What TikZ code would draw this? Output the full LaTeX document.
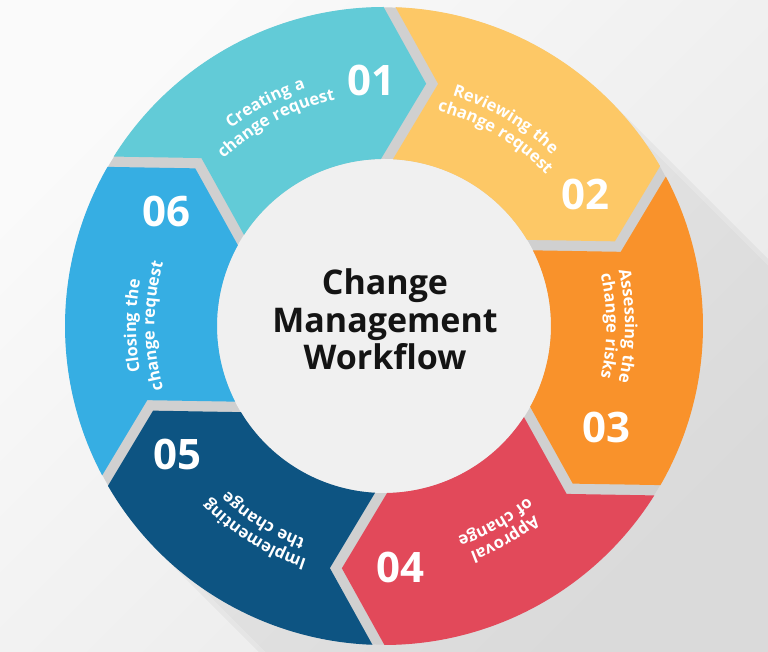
\documentclass[tikz,border=0pt]{standalone}
\usepackage{fontspec}
\setmainfont{Open Sans}
\newfontfamily\lblfam[LetterSpace=5]{Open Sans}
\usetikzlibrary{calc,decorations.text,shadings}
\definecolor{c1}{HTML}{62CBD7}
\definecolor{c2}{HTML}{FDC866}
\definecolor{c3}{HTML}{F9922B}
\definecolor{c4}{HTML}{E2495A}
\definecolor{c5}{HTML}{0D5482}
\definecolor{c6}{HTML}{36AEE3}
\definecolor{bgA}{HTML}{FAFAFA}
\definecolor{bgB}{HTML}{E8E8E8}
\definecolor{gapgray}{HTML}{D0D0D0}
\definecolor{discin}{HTML}{F0F0F0}
\definecolor{discout}{HTML}{D2D2D2}
\pgfdeclareradialshading{disc}{\pgfpoint{0bp}{0bp}}{color(0bp)=(discin); color(26bp)=(discin); color(50bp)=(discout)}
\newcommand\lblfont{\lblfam\fontsize{16.5}{18.5}\selectfont\bfseries}
\newcommand\numfont{\fontsize{42}{42}\selectfont\bfseries}
\tikzset{
  lbl/.style={decorate, decoration={text along path, text align=center, text color=white, text={|\lblfont|#1}}},
  num/.style={font=\numfont, text=white, inner sep=0pt}
}
\begin{document}
\begin{tikzpicture}[x=1pt,y=1pt]
\useasboundingbox (0,0) rectangle (768,652);
\coordinate (c) at (384,326);
% background
\shade[top color=bgA, bottom color=bgB, shading angle=45] (0,0) rectangle (768,652);
\begin{scope}
  \clip (0,0) rectangle (768,652);
  \fill[black, opacity=.035] ($(c)+(45:319pt)$) -- ($(c)+(45:319pt)+(-45:900pt)$) -- ($(c)+(-135:319pt)+(-45:900pt)$) -- ($(c)+(-135:319pt)$) -- cycle;
  \fill[black, opacity=.02] ($(c)+(55:319pt)$) -- ($(c)+(55:319pt)+(-45:900pt)$) -- ($(c)+(-145:319pt)+(-45:900pt)$) -- ($(c)+(-145:319pt)$) -- cycle;
\end{scope}
% ring base (gaps)
\fill[gapgray] (c) circle[radius=318.6pt];
% inner disc
\begin{scope}
  \clip (c) circle[radius=167pt];
  \shade[shading=disc] ($(c)+(40pt,-40pt)$) circle[radius=260pt];
\end{scope}
% segments
\foreach \A/\col in {149/c1, 89/c2, 29/c3, -31/c4, -91/c5, -151/c6}{
  \pgfmathsetmacro\B{\A-60}
  \fill[\col] ($(c)+({\A-1.08}:319pt)$) arc[start angle=\A-1.08, end angle=\B+1.08, radius=319pt]
    -- ($(c)+(\B:243pt)+({\B-90}:37.9pt)$)
    -- ($(c)+({\B+2.06}:167pt)$) arc[start angle=\B+2.06, end angle=\A-2.06, radius=167pt]
    -- ($(c)+(\A:243pt)+({\A-90}:49.9pt)$) -- cycle;
}
% labels along the ring
\path[lbl={Creating a}] ($(c)+(153:250pt)$) arc[start angle=153, end angle=83, radius=250pt];
\path[lbl={change request}] ($(c)+(153:231.5pt)$) arc[start angle=153, end angle=83, radius=231.5pt];
\path[lbl={Reviewing the}] ($(c)+(94.5:240pt)$) arc[start angle=94.5, end angle=24.5, radius=240pt];
\path[lbl={change request}] ($(c)+(94.5:221.5pt)$) arc[start angle=94.5, end angle=24.5, radius=221.5pt];
\path[lbl={Assessing the}] ($(c)+(35:241pt)$) arc[start angle=35, end angle=-35, radius=241pt];
\path[lbl={change risks}] ($(c)+(35:222.5pt)$) arc[start angle=35, end angle=-35, radius=222.5pt];
\path[lbl={Approval}] ($(c)+(-25.4:242pt)$) arc[start angle=-25.4, end angle=-95.4, radius=242pt];
\path[lbl={of change}] ($(c)+(-25.4:223.5pt)$) arc[start angle=-25.4, end angle=-95.4, radius=223.5pt];
\path[lbl={Implementing}] ($(c)+(-86.8:246pt)$) arc[start angle=-86.8, end angle=-156.8, radius=246pt];
\path[lbl={the change}] ($(c)+(-86.8:227.5pt)$) arc[start angle=-86.8, end angle=-156.8, radius=227.5pt];
\path[lbl={Closing the}] ($(c)+(215:248pt)$) arc[start angle=215, end angle=145, radius=248pt];
\path[lbl={change request}] ($(c)+(215:229.5pt)$) arc[start angle=215, end angle=145, radius=229.5pt];
% numbers
\node[num] (n1) at ($(c)+(93:246pt)$) {01};
\node[num] (n2) at ($(c)+(33.1:240pt)$) {02};
\node[num] (n3) at ($(c)+(-24.6:245pt)$) {03};
\node[num] (n4) at ($(c)+(-86.2:242pt)$) {04};
\node[num] (n5) at ($(c)+(-148:243pt)$) {05};
\node[num] (n6) at ($(c)+(152.2:246pt)$) {06};
% title
\node[font=\fontsize{34}{37.5}\selectfont\bfseries, align=center, text=black!92, inner sep=0pt] (title) at (385,332.5) {Change\\Management\\Workflow};
\end{tikzpicture}
\end{document}
